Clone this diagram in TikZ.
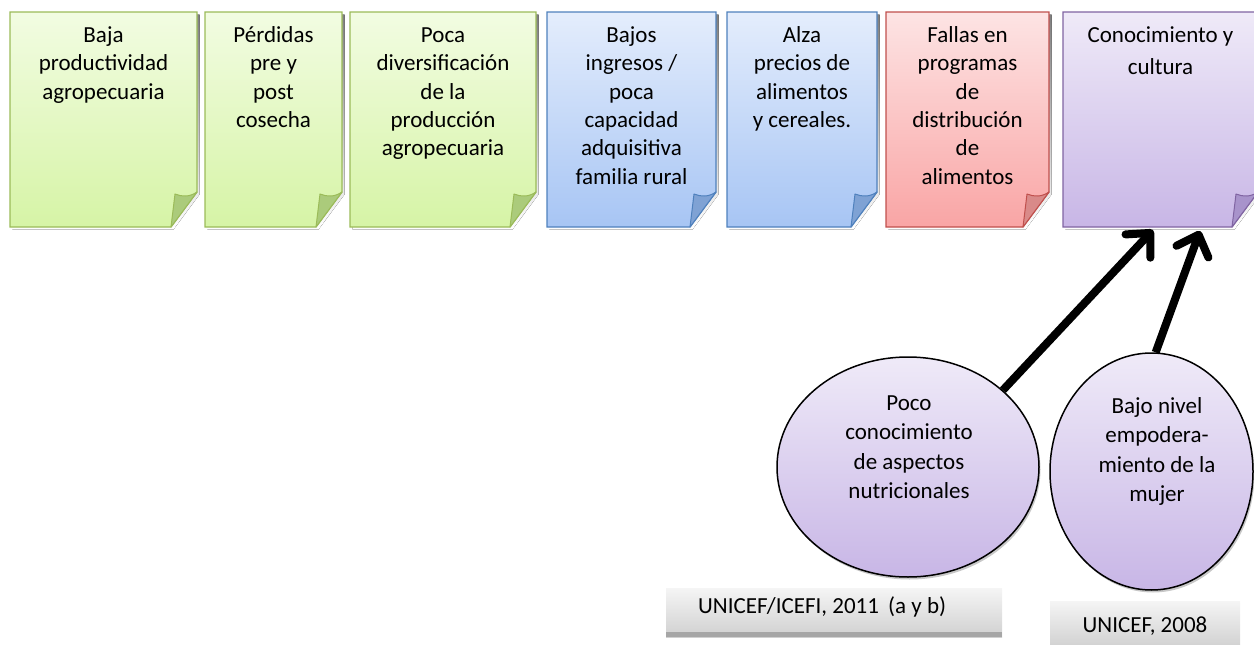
\documentclass[tikz,border=0pt]{standalone}
\usepackage{fontspec}
\setmainfont{Carlito}
\usetikzlibrary{arrows.meta,shapes.geometric}
\definecolor{gline}{HTML}{9BBB59}\definecolor{gtop}{HTML}{F2FCE2}\definecolor{gbot}{HTML}{D6F4A6}\definecolor{gflap}{HTML}{ABCB7B}
\definecolor{bline}{HTML}{4F81BD}\definecolor{btop}{HTML}{E4EDFC}\definecolor{bbot}{HTML}{A7C5F4}\definecolor{bflap}{HTML}{7FA2D4}
\definecolor{rline}{HTML}{C0504D}\definecolor{rtop}{HTML}{FDE4E4}\definecolor{rbot}{HTML}{F9A5A5}\definecolor{rflap}{HTML}{D98A89}
\definecolor{pline}{HTML}{8064A2}\definecolor{ptop}{HTML}{EFEAF8}\definecolor{pbot}{HTML}{C8B6E6}\definecolor{pflap}{HTML}{A893CB}
\definecolor{boxtop}{HTML}{F5F5F5}\definecolor{boxbot}{HTML}{D0D0D0}\definecolor{boxedge}{HTML}{A6A6A6}
\definecolor{shade}{HTML}{B8B8B8}
\definecolor{bubshade}{HTML}{C8C8C8}
\newcommand\stickynote[5]{%
  \fill[shade] (#2+2.5,14.5) -- (#3+2.5,14.5) -- (#3+2.5,194.5) -- (#3-23.5,229.5) -- (#2+2.5,229.5) -- cycle;
  \path[draw=#4line, line width=1.3pt, top color=#4top, bottom color=#4bot] (#2,12) -- (#3,12) -- (#3,192) -- (#3-26,227) -- (#2,227) -- cycle;
  \path[draw=#4line, line width=1pt, line join=round, fill=#4flap] (#3,192) .. controls (#3-7,197) and (#3-15,197) .. (#3-22,194) -- (#3-26,227) -- cycle;
  \node[notetxt, anchor=north] (#1) at ({(#2+#3)/2},21) {\rule{0pt}{21pt}#5};
}
\begin{document}
\begin{tikzpicture}[x=1pt,y=-1pt,
  notetxt/.style={font=\fontsize{23}{28.4}\selectfont, align=center, inner sep=0pt},
  bubble/.style={ellipse, draw=black, line width=1.5pt, top color=ptop, bottom color=pbot, inner sep=0pt},
  bubtxt/.style={font=\fontsize{23}{29.5}\selectfont, align=center, inner sep=0pt},
  srctxt/.style={font=\fontsize{23}{28}\selectfont, inner sep=0pt},
  bigarrow/.style={line width=8pt, -{Straight Barb[length=18pt,width=34pt,round]}}]
\useasboundingbox (0,0) rectangle (1254,645);
\clip (0,0) rectangle (1254,645);
\stickynote{n1}{10}{197}{g}{Baja\\productividad\\agropecuaria}
\stickynote{n2}{205}{342}{g}{Pérdidas\\pre y\\post\\cosecha}
\stickynote{n3}{350}{536}{g}{Poca\\diversificación\\de la\\producción\\agropecuaria}
\stickynote{n4}{547}{716}{b}{Bajos\\ingresos /\\poca\\capacidad\\adquisitiva\\familia rural}
\stickynote{n5}{727}{877}{b}{Alza\\precios de\\alimentos\\y cereales.}
\stickynote{n6}{886}{1049}{r}{Fallas en\\programas\\de\\distribución\\de\\alimentos}
\stickynote{n7}{1063}{1258}{p}{Conocimiento y\\[4pt]cultura}
% circles
\fill[bubshade] (909.5,469.5) ellipse [x radius=131pt, y radius=110pt];
\node[bubble, minimum width=262pt, minimum height=220pt] (c1) at (908,467) {};
\node[bubtxt, anchor=north] (c1t) at (909,389) {\rule{0pt}{21pt}Poco\\conocimiento\\de aspectos\\nutricionales};
\fill[bubshade] (1153,474) ellipse [x radius=101.5pt, y radius=118.5pt];
\node[bubble, minimum width=203pt, minimum height=237pt] (c2) at (1151.5,471.5) {};
\node[bubtxt, anchor=north] (c2t) at (1157,392) {\rule{0pt}{21pt}Bajo nivel\\empodera-\\miento de la\\mujer};
% sources
\path[top color=boxtop, bottom color=boxbot] (666,588) rectangle (1002,637);
\fill[boxedge] (666,632) rectangle (1002,637);
\node[srctxt, anchor=base west] (s1) at (698,613) {UNICEF/ICEFI, 2011\hspace{4pt} (a y b)};
\path[top color=boxtop, bottom color=boxbot] (1050,601) rectangle (1240,648);
\node[srctxt, anchor=base] (s2) at (1145,632) {UNICEF, 2008};
% arrows
\coordinate (t1) at (1153,230);
\coordinate (t2) at (1200,231);
\draw[bigarrow] (c1.39) -- (t1);
\draw[bigarrow] (c2.88) -- (t2);
\end{tikzpicture}
\end{document}
